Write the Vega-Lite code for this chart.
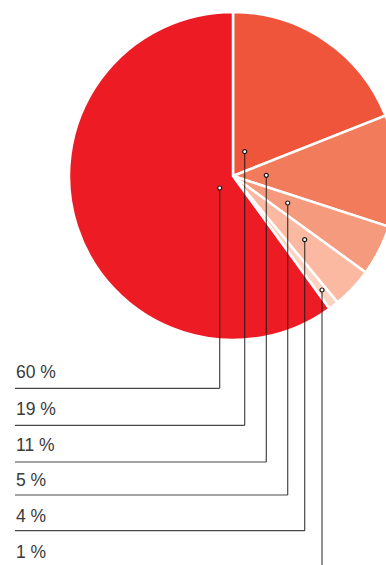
{
  "$schema": "https://vega.github.io/schema/vega-lite/v6.json",
  "width": 386,
  "height": 565,
  "padding": 0,
  "autosize": {"type": "none"},
  "background": "white",
  "config": {"view": {"stroke": null}},
  "data": {
    "values": [
      {"rank": 1, "label": "19 %", "share": 19, "lx": 244.7, "dotY": 151.7, "lineY": 425.3, "textY": 415},
      {"rank": 2, "label": "11 %", "share": 11, "lx": 266.3, "dotY": 175.3, "lineY": 462, "textY": 450.7},
      {"rank": 3, "label": "5 %", "share": 5, "lx": 287.7, "dotY": 203, "lineY": 495, "textY": 485.7},
      {"rank": 4, "label": "4 %", "share": 4, "lx": 304.7, "dotY": 239.7, "lineY": 530.7, "textY": 521.7},
      {"rank": 5, "label": "1 %", "share": 1, "lx": 322, "dotY": 290, "lineY": 570, "textY": 557.7},
      {"rank": 6, "label": "60 %", "share": 60, "lx": 219.7, "dotY": 188, "lineY": 388.3, "textY": 378.3}
    ]
  },
  "layer": [
    {
      "mark": {"type": "arc", "outerRadius": 164, "stroke": "white", "strokeWidth": 2.5},
      "encoding": {
        "theta": {"field": "share", "type": "quantitative"},
        "order": {"field": "rank", "type": "quantitative"},
        "color": {
          "field": "label",
          "type": "nominal",
          "scale": {
            "domain": ["19 %", "11 %", "5 %", "4 %", "1 %", "60 %"],
            "range": ["#EF553B", "#F27B5B", "#F69A7E", "#FAB9A0", "#FCD3C1", "#ED1C24"]
          },
          "legend": null
        },
        "x": {"datum": 233, "type": "quantitative", "scale": {"domain": [0, 386], "nice": false, "zero": false}, "axis": null},
        "y": {"datum": 176, "type": "quantitative", "scale": {"domain": [0, 565], "nice": false, "zero": false, "reverse": true}, "axis": null}
      }
    },
    {
      "mark": {"type": "rule", "color": "#1a1a1a", "opacity": 0.8, "strokeWidth": 1.2},
      "encoding": {
        "x": {"field": "lx", "type": "quantitative"},
        "y": {"field": "dotY", "type": "quantitative"},
        "y2": {"field": "lineY"}
      }
    },
    {
      "mark": {"type": "rule", "color": "#1a1a1a", "opacity": 0.8, "strokeWidth": 1.2},
      "encoding": {
        "x": {"field": "lx", "type": "quantitative"},
        "x2": {"datum": 15},
        "y": {"field": "lineY", "type": "quantitative"}
      }
    },
    {
      "mark": {"type": "point", "shape": "circle", "filled": true, "fill": "white", "stroke": "#1a1a1a", "strokeWidth": 1.2, "size": 16, "opacity": 1},
      "encoding": {
        "x": {"field": "lx", "type": "quantitative"},
        "y": {"field": "dotY", "type": "quantitative"}
      }
    },
    {
      "mark": {"type": "text", "align": "left", "baseline": "alphabetic", "font": "Liberation Sans", "fontSize": 17.5, "color": "#3a3a3a"},
      "encoding": {
        "x": {"datum": 16, "type": "quantitative"},
        "y": {"field": "textY", "type": "quantitative"},
        "text": {"field": "label"}
      }
    }
  ]
}
